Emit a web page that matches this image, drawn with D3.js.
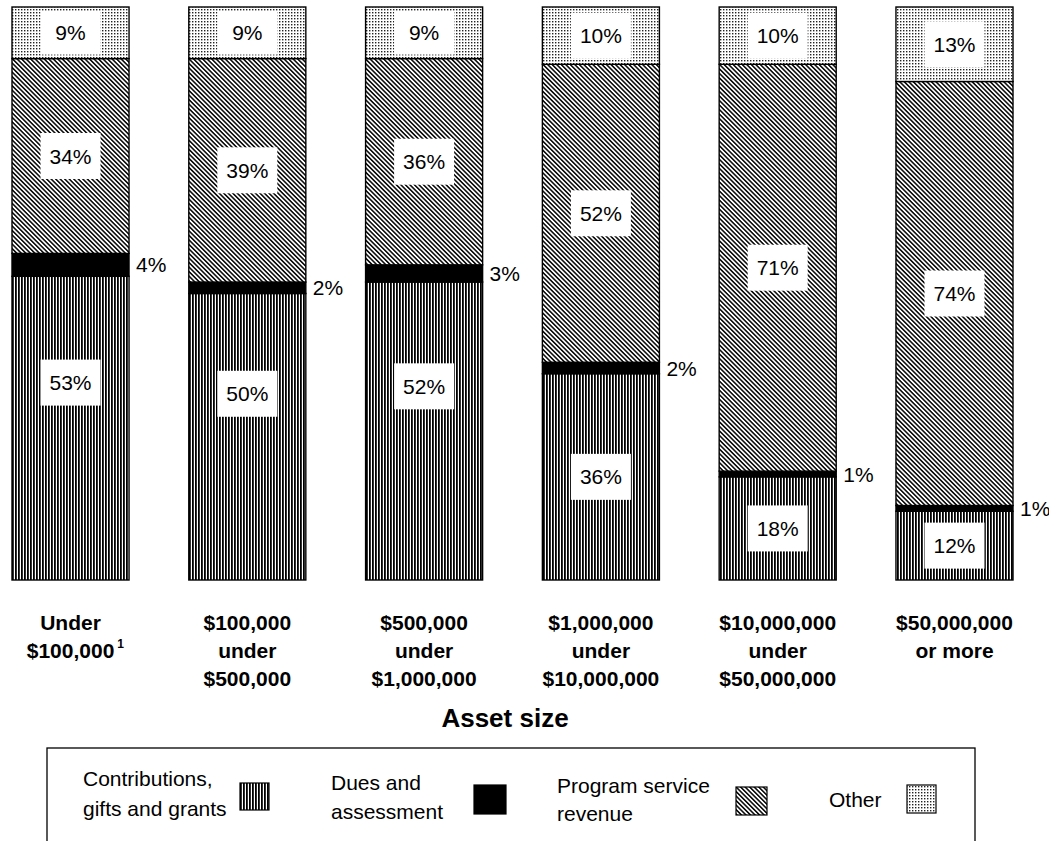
<!DOCTYPE html>
<html>
<head>
<meta charset="utf-8">
<script src="https://cdn.jsdelivr.net/npm/d3@7"></script>
<style>
  html, body { margin: 0; padding: 0; background: #fff; }
  svg { display: block; font-family: "Liberation Sans", Arial, Helvetica, sans-serif; }
</style>
</head>
<body>
<svg id="chart" width="1049" height="841"></svg>
<script>
// ---- data ----
const categories = [
  ["Under", "$100,000"],
  ["$100,000", "under", "$500,000"],
  ["$500,000", "under", "$1,000,000"],
  ["$1,000,000", "under", "$10,000,000"],
  ["$10,000,000", "under", "$50,000,000"],
  ["$50,000,000", "or more"]
];
const footnoteMark = ["1", "", "", "", "", ""];
const contributions = [53, 50, 52, 36, 18, 12];
const dues = [4, 2, 3, 2, 1, 1];
const programService = [34, 39, 36, 52, 71, 74];
const other = [9, 9, 9, 10, 10, 13];
const seriesKeys = ["contrib", "dues", "program", "other"];
const legendLabels = [
  ["Contributions,", "gifts and grants"],
  ["Dues and", "assessment"],
  ["Program service", "revenue"],
  ["Other"]
];
const axisTitle = "Asset size";

// ---- build table ----
const table = categories.map((c, i) => ({
  idx: i,
  contrib: contributions[i],
  dues: dues[i],
  program: programService[i],
  other: other[i]
}));

const svg = d3.select("#chart");

// ---- patterns ----
const defs = svg.append("defs");
const pV = defs.append("pattern").attr("id", "pat-contrib")
  .attr("patternUnits", "userSpaceOnUse").attr("width", 3).attr("height", 4);
pV.append("rect").attr("width", 3).attr("height", 4).attr("fill", "#fff");
pV.append("rect").attr("x", 0).attr("width", 1.8).attr("height", 4).attr("fill", "#000");

const pD = defs.append("pattern").attr("id", "pat-program")
  .attr("patternUnits", "userSpaceOnUse").attr("width", 3.2).attr("height", 3.2)
  .attr("patternTransform", "rotate(45)");
pD.append("rect").attr("width", 3.2).attr("height", 3.2).attr("fill", "#fff");
pD.append("rect").attr("y", 0).attr("width", 3.2).attr("height", 1.6).attr("fill", "#111");

const pO = defs.append("pattern").attr("id", "pat-other")
  .attr("patternUnits", "userSpaceOnUse").attr("width", 3).attr("height", 3);
pO.append("rect").attr("width", 3).attr("height", 3).attr("fill", "#fff");
pO.append("rect").attr("x", 0).attr("y", 0).attr("width", 1.4).attr("height", 1.4).attr("fill", "#222");

const fills = {
  contrib: "url(#pat-contrib)",
  dues: "#000",
  program: "url(#pat-program)",
  other: "url(#pat-other)"
};

// ---- scales ----
const x = d3.scaleBand()
  .domain(table.map(d => d.idx))
  .range([12, 1013])
  .paddingInner(0.338)
  .paddingOuter(0);
const y = d3.scaleLinear().domain([0, 100]).range([580, 7]);

const stack = d3.stack().keys(seriesKeys);
const series = stack(table);

// ---- bars ----
const g = svg.append("g");
series.forEach(s => {
  const key = s.key;
  g.selectAll(null).data(s).join("rect")
    .attr("x", d => x(d.data.idx))
    .attr("y", d => y(d[1]))
    .attr("width", x.bandwidth())
    .attr("height", d => y(d[0]) - y(d[1]))
    .attr("fill", fills[key])
    .attr("stroke", "#000")
    .attr("stroke-width", 1.4);
});

// ---- labels inside segments ----
const fontSize = 21;
series.forEach(s => {
  const key = s.key;
  s.forEach(d => {
    const v = d.data[key];
    const top = y(d[1]), bot = y(d[0]);
    const h = bot - top;
    const cx = x(d.data.idx) + x.bandwidth() / 2;
    if (key === "dues") {
      svg.append("text")
        .attr("x", x(d.data.idx) + x.bandwidth() + 7)
        .attr("y", (top + bot) / 2)
        .attr("dy", "0.36em")
        .attr("font-size", fontSize)
        .attr("fill", "#000")
        .text(v + "%");
      return;
    }
    let cy = (top + bot) / 2;
    if (key === "contrib" && v >= 45) cy = top + h * 0.35;
    const bw = 60, bh = Math.min(46, h - 8);
    svg.append("rect")
      .attr("x", cx - bw / 2).attr("y", cy - bh / 2)
      .attr("width", bw).attr("height", bh)
      .attr("fill", "#fff");
    svg.append("text")
      .attr("x", cx).attr("y", cy)
      .attr("dy", "0.36em")
      .attr("text-anchor", "middle")
      .attr("font-size", fontSize)
      .attr("fill", "#000")
      .text(v + "%");
  });
});

// ---- category labels ----
categories.forEach((lines, i) => {
  const cx = x(i) + x.bandwidth() / 2;
  lines.forEach((ln, j) => {
    const t = svg.append("text")
      .attr("x", cx).attr("y", 630 + j * 28)
      .attr("text-anchor", "middle")
      .attr("font-size", 21).attr("font-weight", "bold")
      .attr("fill", "#000")
      .text(ln);
    if (j === lines.length - 1 && footnoteMark[i]) {
      const w = t.node().getComputedTextLength();
      svg.append("text")
        .attr("x", cx + w / 2 + 3).attr("y", 630 + j * 28 - 10)
        .attr("font-size", 12).attr("font-weight", "bold")
        .text(footnoteMark[i]);
    }
  });
});

svg.append("text")
  .attr("x", 505).attr("y", 727)
  .attr("text-anchor", "middle")
  .attr("font-size", 26).attr("font-weight", "bold")
  .text(axisTitle);

// ---- legend ----
svg.append("rect")
  .attr("x", 47).attr("y", 748)
  .attr("width", 928).attr("height", 130)
  .attr("fill", "none").attr("stroke", "#000").attr("stroke-width", 1.3);

const legendText = [
  { x: 83, ys: [786, 816] },
  { x: 331, ys: [790, 819] },
  { x: 557, ys: [793, 821] },
  { x: 829, ys: [807] }
];
const legendSwatch = [
  { x: 240, y: 783, w: 29, h: 27 },
  { x: 474, y: 785, w: 32, h: 29 },
  { x: 736, y: 787, w: 31, h: 28 },
  { x: 907, y: 785, w: 29, h: 28 }
];
seriesKeys.forEach((k, i) => {
  legendLabels[i].forEach((ln, j) => {
    svg.append("text")
      .attr("x", legendText[i].x).attr("y", legendText[i].ys[j])
      .attr("font-size", 21)
      .text(ln);
  });
  const s = legendSwatch[i];
  svg.append("rect")
    .attr("x", s.x).attr("y", s.y).attr("width", s.w).attr("height", s.h)
    .attr("fill", fills[k]).attr("stroke", "#000").attr("stroke-width", 1.2);
});
</script>
</body>
</html>
